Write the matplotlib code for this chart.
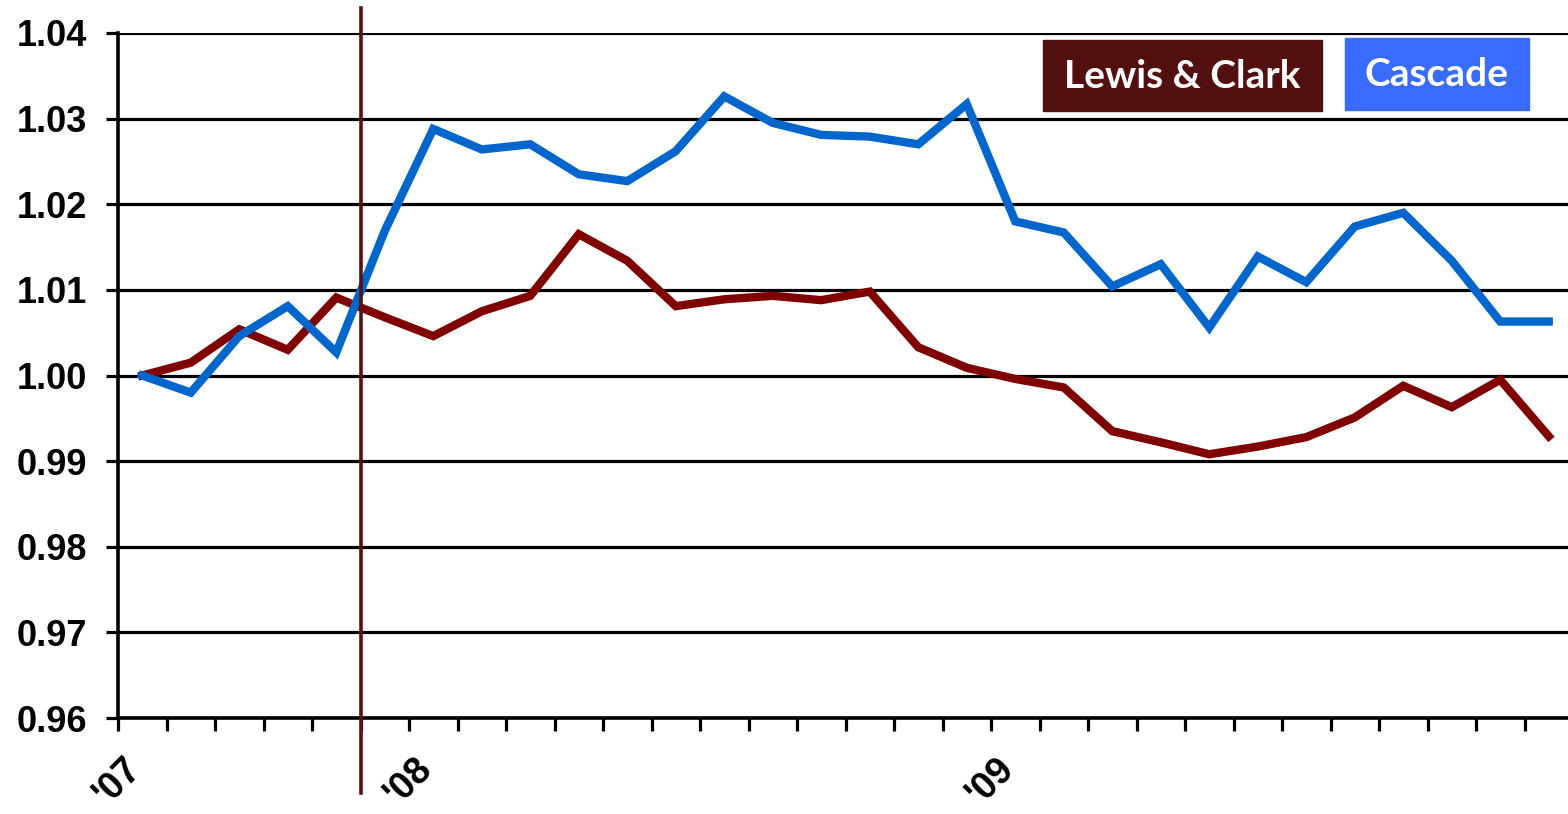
import numpy as np
import matplotlib
matplotlib.use("Agg")
import matplotlib.pyplot as plt
from matplotlib.patches import Rectangle

# monthly index values
lewis_clark = [1.0000, 1.0015, 1.0054, 1.0030, 1.0091, 1.0068, 1.0046, 1.0075,
               1.0093, 1.0165, 1.0134, 1.0081, 1.0089, 1.0093, 1.0088, 1.0098,
               1.0033, 1.0009, 0.9996, 0.9986, 0.9935, 0.9922, 0.9908, 0.9917,
               0.9928, 0.9951, 0.9988, 0.9963, 0.9995, 0.9929]
cascade = [1.0000, 0.9980, 1.0046, 1.0081, 1.0027, 1.0169, 1.0288, 1.0264,
           1.0270, 1.0235, 1.0227, 1.0262, 1.0326, 1.0295, 1.0281, 1.0279,
           1.0270, 1.0317, 1.0180, 1.0167, 1.0104, 1.0130, 1.0056, 1.0139,
           1.0109, 1.0174, 1.0190, 1.0134, 1.0063, 1.0063]

year_labels = ["'07", "'08", "'09"]
year_pos = [-0.5, 5.5, 17.5]      # category boundaries where the year labels sit
marker_pos = 4.5                  # vertical reference line
y_ticks = [0.96, 0.97, 0.98, 0.99, 1.00, 1.01, 1.02, 1.03, 1.04]

x = np.arange(len(cascade))

fig = plt.figure(figsize=(15.68, 8.14), dpi=100)
ax = fig.add_axes([118 / 1568, 1 - 718 / 814, (1573 - 118) / 1568, (718 - 33) / 814])

ax.plot(x, lewis_clark, color="#800000", lw=6, solid_joinstyle="miter", zorder=3)
ax.plot(x, cascade, color="#0066CC", lw=6, solid_joinstyle="miter", zorder=4)

ax.set_xlim(-0.5, len(x) - 0.5)
ax.set_ylim(0.96, 1.04)

# y axis
ax.set_yticks(y_ticks)
ax.set_yticklabels(["%.2f" % v for v in y_ticks])
ax.yaxis.grid(True, color="black", lw=2.3)
ax.set_axisbelow(True)

# x axis: tick marks on every category boundary, labels on the years only
ax.set_xticks(year_pos)
ax.set_xticklabels(year_labels, rotation=45, ha="center", va="top")
ax.set_xticks(np.arange(-0.5, len(x) + 0.5, 1), minor=True)

ax.tick_params(axis="both", which="both", direction="out", length=9, width=2.3, color="black")
ax.tick_params(axis="y", pad=13)
ax.tick_params(axis="x", which="major", pad=14)
for lab in ax.get_yticklabels():
    lab.set_fontfamily("Liberation Sans")
    lab.set_fontweight("bold")
    lab.set_fontsize(26)
for lab in ax.get_xticklabels():
    lab.set_fontfamily("Liberation Sans")
    lab.set_fontweight("bold")
    lab.set_fontsize(27)

for side in ["top", "right"]:
    ax.spines[side].set_visible(False)
for side in ["left", "bottom"]:
    ax.spines[side].set_linewidth(2.6)
    ax.spines[side].set_color("black")

ax.axvline(marker_pos, ymin=-0.11, ymax=1.036, color="#521414", lw=2.6, clip_on=False, zorder=5)

# legend boxes
fig.patches.append(Rectangle((1043 / 1568, 1 - 111 / 814), 279 / 1568, 71 / 814,
                             transform=fig.transFigure, color="#521010", zorder=6))
fig.patches.append(Rectangle((1345 / 1568, 1 - 110 / 814), 184 / 1568, 72 / 814,
                             transform=fig.transFigure, color="#3A6BFF", zorder=6))
fig.text(1182 / 1568, 1 - 77 / 814, "Lewis & Clark", color="white", fontsize=28,
         fontweight="bold", family="Lato", ha="center", va="center", zorder=7)
fig.text(1437 / 1568, 1 - 75 / 814, "Cascade", color="white", fontsize=28,
         fontweight="bold", family="Lato", ha="center", va="center", zorder=7)

fig.savefig("out.png", dpi=100)
